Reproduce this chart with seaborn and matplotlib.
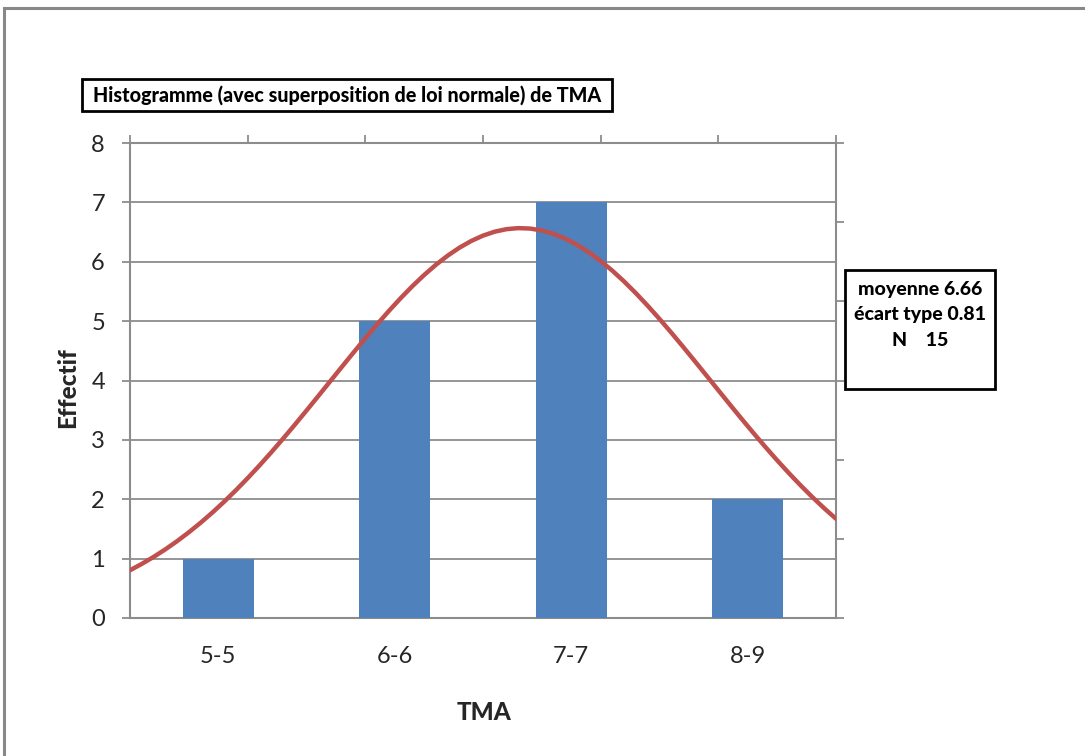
import numpy as np
import pandas as pd
import matplotlib
matplotlib.use("Agg")
import matplotlib.pyplot as plt
from matplotlib.patches import Rectangle
import seaborn as sns

# Histogram classes and counts
classes = ["5-5", "6-6", "7-7", "8-9"]
counts = [1, 5, 7, 2]

# Fitted normal law
mean_tma = 6.66
sd_tma = 0.81
n_obs = 15
curve_range = (5.0, 8.0)

title_text = "Histogramme (avec superposition de loi normale) de TMA"
stats_lines = [f"moyenne {mean_tma:.2f}", f"écart type {sd_tma:.2f}", f"N    {n_obs}"]

sns.set_theme(style="white")
plt.rcParams["font.family"] = ["Lato", "DejaVu Sans"]

BAR = "#4F81BD"
CURVE = "#C0504D"
AXC = "#8C8C8C"
BOLD = 900

W, H = 1085, 756
fig = plt.figure(figsize=(W / 100, H / 100), dpi=100)
fig.patch.set_facecolor("white")

def fx(px):
    return px / W

def fy(py):
    return 1 - py / H

# outer frame of the chart object
fig.patches.append(Rectangle((fx(4), fy(H + 20)), fx(W + 20), fy(8) - fy(H + 20),
                             transform=fig.transFigure, fill=False,
                             edgecolor="#888888", linewidth=2.2))

left, right, top, bottom = 130, 836, 143, 618
rect = [fx(left), fy(bottom), fx(right) - fx(left), fy(top) - fy(bottom)]

ax = fig.add_axes(rect)
df = pd.DataFrame({"classe": classes, "effectif": counts})
sns.barplot(data=df, x="classe", y="effectif", color=BAR, width=0.4,
            saturation=1, linewidth=0, edgecolor="none", ax=ax, zorder=3)
ax.set_xlim(-0.5, len(classes) - 0.5)
ax.set_ylim(0, 8)
ax.set_yticks(range(0, 9))
ax.yaxis.grid(True, color=AXC, linewidth=1.3, zorder=0)
ax.set_axisbelow(True)
ax.set_xticks(np.arange(len(classes)))
ax.set_xticklabels(classes)
ax.set_xticks(np.arange(len(classes) + 1) - 0.5, minor=True)
ax.tick_params(axis="x", which="major", length=0, pad=20, labelsize=17)
ax.tick_params(axis="x", which="minor", length=6, width=1.3, color=AXC, direction="out")
ax.tick_params(axis="y", length=6, width=1.3, color=AXC, direction="out", pad=12,
               labelsize=17, left=True)
for s in ["top", "right"]:
    ax.spines[s].set_visible(False)
for s in ["left", "bottom"]:
    ax.spines[s].set_color(AXC)
    ax.spines[s].set_linewidth(1.5)
ax.set_xlabel("TMA", fontsize=17.5, fontweight=BOLD, va="center", ha="center")
ax.set_ylabel("Effectif", fontsize=17.5, fontweight=BOLD, va="center", ha="center")
ax.xaxis.set_label_coords((484 - left) / (right - left), (bottom - 712) / (bottom - top))
ax.yaxis.set_label_coords((68 - left) / (right - left), (bottom - 388) / (bottom - top))

# secondary axes carrying the normal density
ax2 = fig.add_axes(rect, frameon=False)
ax2.patch.set_visible(False)
xs = np.linspace(curve_range[0], curve_range[1], 61)
dens = np.exp(-0.5 * ((xs - mean_tma) / sd_tma) ** 2) / (sd_tma * np.sqrt(2 * np.pi))
sns.lineplot(x=xs, y=dens, color=CURVE, linewidth=3.2, ax=ax2, zorder=5)
ax2.set_xlim(*curve_range)
ax2.set_ylim(0, 0.6)
ax2.set_xticks(np.arange(5.0, 8.01, 0.5))
ax2.set_yticks(np.arange(0, 0.601, 0.1))
ax2.xaxis.tick_top()
ax2.yaxis.tick_right()
ax2.tick_params(axis="both", length=6, width=1.3, color=AXC, direction="out",
                labeltop=False, labelright=False, labelbottom=False, labelleft=False)
ax2.set_frame_on(True)
for s in ["left", "bottom"]:
    ax2.spines[s].set_visible(False)
for s in ["top", "right"]:
    ax2.spines[s].set_visible(True)
    ax2.spines[s].set_color(AXC)
    ax2.spines[s].set_linewidth(1.5)

# title box
fig.patches.append(Rectangle((fx(82), fy(111)), fx(612) - fx(82), fy(79) - fy(111),
                             transform=fig.transFigure, fill=True, facecolor="white",
                             edgecolor="black", linewidth=2))
fig.text(fx(347), fy(95), title_text, ha="center", va="center",
         fontsize=14.2, fontweight=BOLD, color="black")

# statistics box
fig.patches.append(Rectangle((fx(845), fy(389)), fx(995) - fx(845), fy(270) - fy(389),
                             transform=fig.transFigure, fill=True, facecolor="white",
                             edgecolor="black", linewidth=2, zorder=10))
for i, line in enumerate(stats_lines):
    fig.text(fx(920), fy(289 + 25.7 * i), line, ha="center", va="center",
             fontsize=14, fontweight=BOLD, color="black", zorder=11)

fig.savefig("out.png", dpi=100)
